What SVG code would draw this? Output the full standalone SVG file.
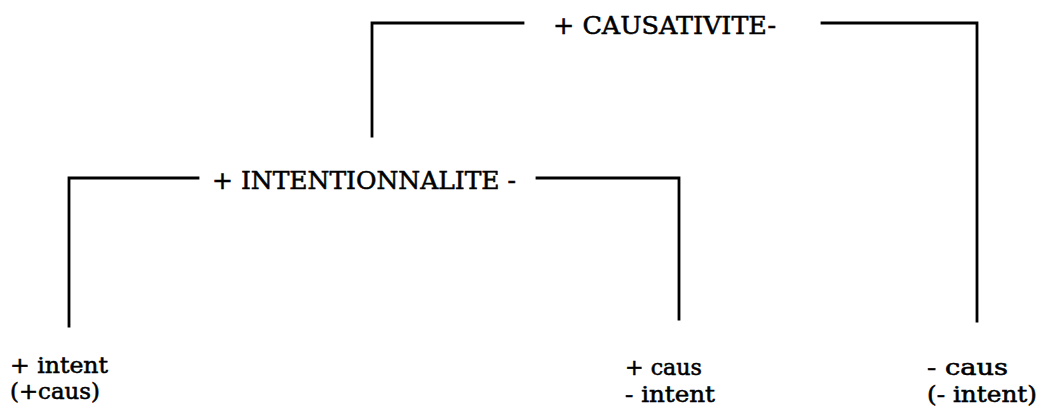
<svg xmlns="http://www.w3.org/2000/svg" width="1041" height="414" viewBox="0 0 1041 414">
<style>
.ln{fill:none;stroke:#000;stroke-width:2.8;stroke-linecap:square;stroke-linejoin:miter}
text{font-family:"DejaVu Serif","Liberation Serif",serif;font-size:22px;fill:#000;stroke:#000;stroke-width:0.55}
.cap{font-size:25px}
</style>
<rect width="1041" height="414" fill="#fff"/>
<g id="connectors">
<polyline class="ln" points="372,136 372,23 523,23"/>
<polyline class="ln" points="822,23 977,23 977,321"/>
<polyline class="ln" points="69,326 69,178 198,178"/>
<polyline class="ln" points="537,178 679,178 679,319"/>
</g>
<g id="causativite"><text class="cap" x="553" y="34" textLength="223" lengthAdjust="spacingAndGlyphs">+ CAUSATIVITE-</text></g>
<g id="intentionnalite"><text class="cap" x="212" y="189" textLength="304" lengthAdjust="spacingAndGlyphs">+ INTENTIONNALITE -</text></g>
<g id="leaf-intent">
<text x="10" y="373" textLength="98" lengthAdjust="spacingAndGlyphs">+ intent</text>
<text x="10" y="399" textLength="90" lengthAdjust="spacingAndGlyphs">(+caus)</text>
</g>
<g id="leaf-caus">
<text x="625" y="375" textLength="77" lengthAdjust="spacingAndGlyphs">+ caus</text>
<text x="625" y="402" textLength="90" lengthAdjust="spacingAndGlyphs">- intent</text>
</g>
<g id="leaf-noncaus">
<text x="927" y="375" textLength="81" lengthAdjust="spacingAndGlyphs">- caus</text>
<text x="927" y="402" textLength="110" lengthAdjust="spacingAndGlyphs">(- intent)</text>
</g>
</svg>
